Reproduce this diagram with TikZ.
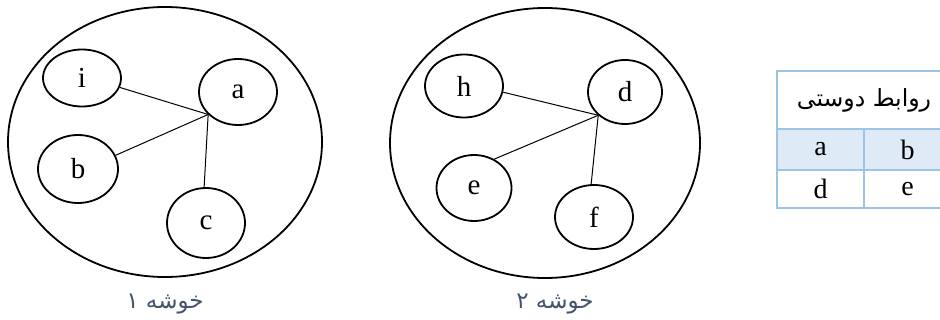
\documentclass[tikz,border=0pt]{standalone}
\usepackage{fontspec}
\setmainfont{Liberation Serif}
\newfontfamily\farsi[Script=Arabic]{DejaVu Sans}
\TeXXeTstate=1
\usetikzlibrary{shapes.geometric}
\definecolor{capgray}{HTML}{44546A}
\definecolor{tblline}{HTML}{9DC3E6}
\definecolor{tblfill}{HTML}{DEEAF6}

\begin{document}
\begin{tikzpicture}[
    x=0.5pt, y=-0.5pt,
    member/.style={draw, ellipse, line width=0.9pt, inner sep=0pt,
                   font=\fontsize{14.5}{16}\selectfont},
    cluster/.style={draw, ellipse, line width=0.9pt, inner sep=0pt},
    link/.style={line width=0.5pt},
    caption/.style={font=\farsi\fontsize{11.5}{13}\selectfont, text=capgray},
    cell/.style={draw=tblline, line width=0.8pt, minimum width=43.5pt,
                 inner sep=0pt, font=\fontsize{14}{16}\selectfont}
  ]
  \useasboundingbox (0,0) rectangle (940,320);
  \clip (0,0) rectangle (940,320);

  % cluster 1
  \node[cluster, minimum width=157pt, minimum height=135pt] (k1) at (165,142) {};
  \node[member, minimum width=39pt, minimum height=28.5pt] (i) at (82,78) {i};
  \node[member, minimum width=39pt, minimum height=33pt] (a) at (238,92) {a};
  \node[member, minimum width=40pt, minimum height=34pt] (b) at (78,169) {b};
  \node[member, minimum width=39pt, minimum height=35pt] (c) at (206,223) {c};
  \draw[link] (i.-14) -- (a.217);
  \draw[link] (b.20) -- (a.217);
  \draw[link] (c.93) -- (a.217);
  \node[caption] (cap1) at (165,304) {\beginR خوشه ۱\endR};

  % cluster 2
  \node[cluster, minimum width=155pt, minimum height=135pt] (k2) at (545,143) {};
  \node[member, minimum width=39pt, minimum height=31.5pt] (h) at (464,86) {h};
  \node[member, minimum width=37pt, minimum height=32pt] (d) at (625,92) {d};
  \node[member, minimum width=37.5pt, minimum height=33pt] (e) at (474,188) {e};
  \node[member, minimum width=39pt, minimum height=32pt] (f) at (594,217) {f};
  \draw[link] (h.-9) -- (d.221);
  \draw[link] (e.55) -- (d.221);
  \draw[link] (f.95) -- (d.221);
  \node[caption] (cap2) at (555,304) {\beginR خوشه ۲\endR};

  % friendship table
  \node[cell, minimum width=87pt, minimum height=29pt,
        font=\farsi\fontsize{11.8}{14}\selectfont] (hdr) at (864,100)
    {\beginR روابط دوستی\endR};
  \node[cell, fill=tblfill, minimum height=20.5pt] (ra) at (820.5,149.5) {a};
  \node[cell, fill=tblfill, minimum height=20.5pt] (rb) at (907.5,149.5) {b};
  \node[cell, minimum height=19pt] (rd) at (820.5,189) {d};
  \node[cell, minimum height=19pt] (re) at (907.5,189) {e};
\end{tikzpicture}
\end{document}
